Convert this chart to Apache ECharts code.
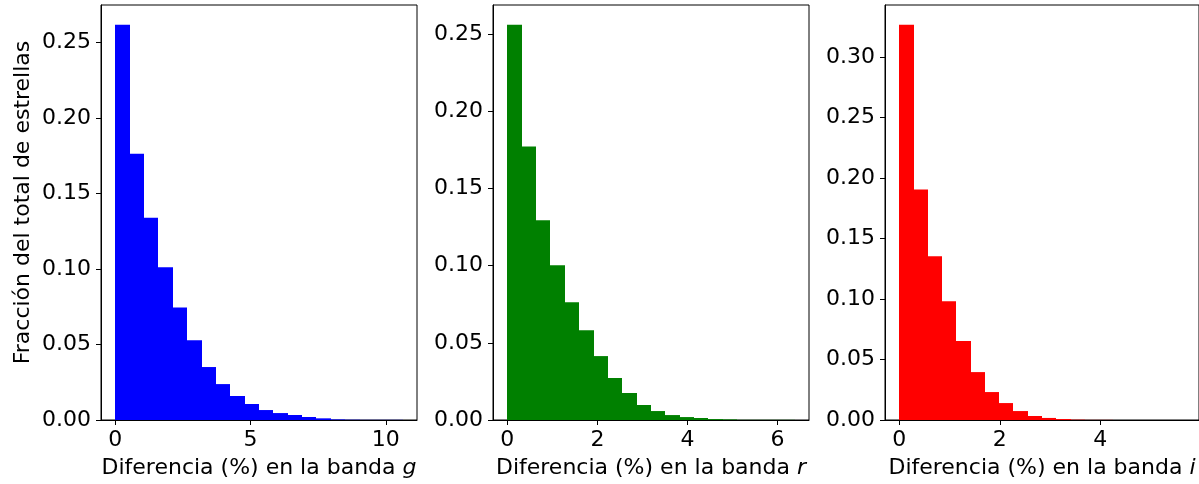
<!DOCTYPE html>
<html>
<head>
<meta charset="utf-8">
<script src="https://cdn.jsdelivr.net/npm/echarts@6/dist/echarts.min.js"></script>
<style>
html,body{margin:0;padding:0;background:#fff;}
#c{width:1199px;height:484px;}
</style>
</head>
<body>
<div id="c"></div>
<script>
// ---- data ----
const bands = ['g', 'r', 'i'];
const colors = ['#0000ff', '#008000', '#ff0000'];
const binWidths = [0.531, 0.319, 0.284];
const gValues = [0.2619, 0.1764, 0.1340, 0.1012, 0.0745, 0.0529, 0.0351, 0.0238, 0.0159, 0.0106, 0.0066, 0.0046, 0.0033, 0.0020, 0.0011, 0.0004, 0.0002, 0.0001, 0.0001, 0.0001];
const rValues = [0.2560, 0.1772, 0.1293, 0.1002, 0.0763, 0.0582, 0.0414, 0.0272, 0.0175, 0.0097, 0.0058, 0.0032, 0.0019, 0.0013, 0.0006, 0.0004, 0.0001, 0.0001, 0.0001, 0.0001];
const iValues = [0.3267, 0.1906, 0.1353, 0.0982, 0.0652, 0.0396, 0.0231, 0.0140, 0.0074, 0.0033, 0.0017, 0.0008, 0.0003, 0.0001, 0.0001, 0.0000, 0.0000, 0.0000, 0.0000, 0.0000];
const xTicks = [[0, 5, 10], [0, 2, 4, 6], [0, 2, 4]];
const yTicks = [[0, 0.05, 0.10, 0.15, 0.20, 0.25], [0, 0.05, 0.10, 0.15, 0.20, 0.25], [0, 0.05, 0.10, 0.15, 0.20, 0.25, 0.30]];
const yLabel = 'Fracción del total de estrellas';
const xLabelPrefix = 'Diferencia (%) en la banda ';
const allValues = [gValues, rValues, iValues];

// ---- layout ----
const FONT = 'DejaVu Sans';
const FS = 22;
const gridPos = [
  {left: 101, top: 5, width: 316, height: 416},
  {left: 493, top: 5, width: 316, height: 416},
  {left: 885, top: 5, width: 317, height: 416}
];

const grids = [], xAxes = [], yAxes = [], series = [];
bands.forEach((b, k) => {
  const vals = allValues[k];
  const w = binWidths[k];
  const span = vals.length * w;
  grids.push(Object.assign({show: true, borderColor: '#000', borderWidth: 1, containLabel: false}, gridPos[k]));
  const tickStyle = {show: true, length: 5, inside: false, lineStyle: {color: '#000', width: 1}};
  xAxes.push({
    type: 'value', gridIndex: k, min: -0.05 * span, max: 1.05 * span,
    axisLine: {show: true, onZero: false, lineStyle: {color: '#000', width: 1}},
    axisTick: Object.assign({customValues: xTicks[k]}, tickStyle),
    axisLabel: {customValues: xTicks[k], color: '#000', fontFamily: FONT, fontSize: FS, margin: 9, formatter: v => String(v)},
    splitLine: {show: false},
    name: xLabelPrefix + '{it|' + b + '}',
    nameLocation: 'middle', nameGap: 37,
    nameTextStyle: {color: '#000', fontFamily: FONT, fontSize: FS,
      rich: {it: {fontStyle: 'italic', fontFamily: FONT, fontSize: FS, color: '#000'}}}
  });
  const maxV = Math.max(...vals) * 1.05;
  yAxes.push({
    type: 'value', gridIndex: k, min: 0, max: maxV,
    axisLine: {show: true, onZero: false, lineStyle: {color: '#000', width: 1}},
    axisTick: Object.assign({customValues: yTicks[k]}, tickStyle),
    axisLabel: {customValues: yTicks[k], color: '#000', fontFamily: FONT, fontSize: FS, margin: 10, formatter: v => v.toFixed(2)},
    splitLine: {show: false},
    name: k === 0 ? yLabel : '',
    nameLocation: 'middle', nameGap: 67,
    nameTextStyle: {color: '#000', fontFamily: FONT, fontSize: FS, padding: [0, 0, 0, 20]}
  });
  const data = vals.map((v, i) => [i * w, (i + 1) * w, v]);
  series.push({
    type: 'custom', xAxisIndex: k, yAxisIndex: k, data: data,
    encode: {x: [0, 1], y: 2},
    renderItem: function (params, api) {
      const p0 = api.coord([api.value(0), 0]);
      const p1 = api.coord([api.value(1), api.value(2)]);
      const x0 = Math.round(p0[0]);
      const x1 = Math.round(p1[0]);
      return {type: 'rect', shape: {x: x0, y: p1[1], width: x1 - x0, height: p0[1] - p1[1]},
        style: {fill: colors[k]}};
    },
    clip: true, silent: true
  });
});

const chart = echarts.init(document.getElementById('c'), null, {renderer: 'canvas'});
chart.setOption({animation: false, backgroundColor: '#fff', grid: grids, xAxis: xAxes, yAxis: yAxes, series: series});
</script>
</body>
</html>
